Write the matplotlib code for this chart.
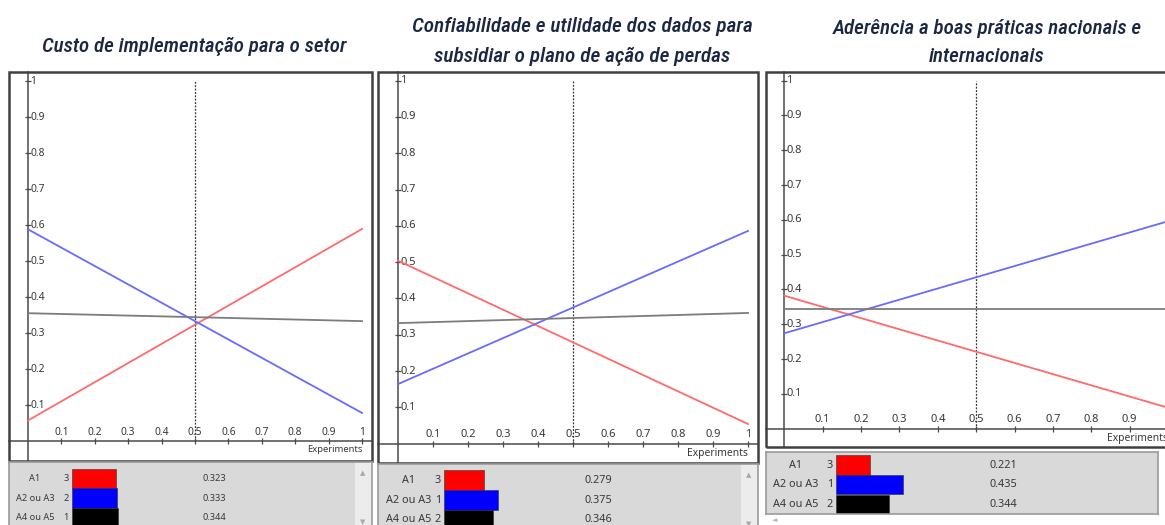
import matplotlib
matplotlib.use("Agg")
import matplotlib.pyplot as plt
from matplotlib import font_manager
from matplotlib.patches import Rectangle

# ---------------------------------------------------------------- data
weights = [0.0, 0.5, 1.0]          # criterion weight at start, current, end
current_index = 1
alternatives = ["A1", "A2 ou A3", "A4 ou A5"]

titles = [
    "Custo de implementação para o setor",
    "Confiabilidade e utilidade dos dados para\nsubsidiar o plano de ação de perdas",
    "Aderência a boas práticas nacionais e\ninternacionais",
]

custo_a1 = [0.057, 0.323, 0.589]
custo_a2_a3 = [0.588, 0.333, 0.078]
custo_a4_a5 = [0.355, 0.344, 0.333]
custo_rank = [3, 2, 1]

dados_a1 = [0.504, 0.279, 0.054]
dados_a2_a3 = [0.164, 0.375, 0.586]
dados_a4_a5 = [0.332, 0.346, 0.360]
dados_rank = [3, 1, 2]

praticas_a1 = [0.382, 0.221, 0.060]
praticas_a2_a3 = [0.274, 0.435, 0.596]
praticas_a4_a5 = [0.344, 0.344, 0.344]
praticas_rank = [3, 1, 2]

tick_values = [0.1, 0.2, 0.3, 0.4, 0.5, 0.6, 0.7, 0.8, 0.9, 1.0]
tick_labels = ["0.1", "0.2", "0.3", "0.4", "0.5", "0.6", "0.7", "0.8", "0.9", "1"]
x_label = "Experiments"

# ---------------------------------------------------------------- style
line_colors = ["#ff6a6a", "#6a6aff", "#7c7c7c"]
bar_colors = ["#ff0000", "#0000ff", "#000000"]
title_color = "#1b2742"
text_color = "#383838"
frame_color = "#404040"
table_face = "#d9d9d9"
ui_font = ["Noto Sans", "DejaVu Sans"]

installed = {f.name for f in font_manager.fontManager.ttflist}
title_family = "DejaVu Sans"
for cand in ["Liberation Sans Narrow", "DejaVu Sans Condensed",
             "Roboto Condensed", "Lato", "Open Sans"]:
    if cand in installed:
        title_family = cand
        break

W, H = 1165, 525
fig = plt.figure(figsize=(W / 100, H / 100), dpi=100)
fig.patch.set_facecolor("white")
renderer = fig.canvas.get_renderer()


def frac_rect(left, top, right, bottom):
    return [left / W, 1 - bottom / H, (right - left) / W, (bottom - top) / H]


# pixel layout of each panel
layouts = [
    dict(box=(9, 72, 372, 461), axis=(28, 362, 441, 81),
         table=(9, 462, 372, 532), row0=478.3, row_step=19.7,
         bar_x0=72, bar_scale=135, label_x=35, rank_x=66, value_x=214,
         font=6.6, tick_font=7.4, scroll=True,
         title_x=194, title_y=[46], title_w=305),
    dict(box=(378, 72, 758, 463), axis=(398, 748, 443.6, 80.7),
         table=(378, 464, 758, 532), row0=480, row_step=20,
         bar_x0=444.3, bar_scale=142, label_x=409, rank_x=438, value_x=598,
         font=7.8, tick_font=8.0, scroll=True,
         title_x=582, title_y=[27, 56], title_w=341),
    dict(box=(766, 72, 1185, 447), axis=(784.3, 1168, 428.6, 80.7),
         table=(766, 452, 1158, 514), row0=465, row_step=19.6,
         bar_x0=836, bar_scale=154, label_x=796, rank_x=830, value_x=1003,
         font=7.8, tick_font=8.0, scroll=False,
         title_x=987, title_y=[28, 57], title_w=309),
]

panels = [
    ([custo_a1, custo_a2_a3, custo_a4_a5], custo_rank),
    ([dados_a1, dados_a2_a3, dados_a4_a5], dados_rank),
    ([praticas_a1, praticas_a2_a3, praticas_a4_a5], praticas_rank),
]

for title, (series, ranks), lay in zip(titles, panels, layouts):
    L, T, R, B = lay["box"]
    x0, x1, y0, y1 = lay["axis"]
    sx = x1 - x0
    sy = y0 - y1
    tf = lay["tick_font"]

    # ---------------- sensitivity plot
    ax = fig.add_axes(frac_rect(L, T, R, B))
    ax.set_xlim((L - x0) / sx, (R - x0) / sx)
    ax.set_ylim((y0 - B) / sy, (y0 - T) / sy)
    ax.set_facecolor("white")
    for side in ("top", "right"):
        ax.spines[side].set_visible(False)
    for side in ("left", "bottom"):
        ax.spines[side].set_position(("data", 0))
        ax.spines[side].set_color("#4a4a4a")
        ax.spines[side].set_linewidth(1.1)
    ax.set_xticks(tick_values)
    ax.set_yticks(tick_values)
    ax.tick_params(direction="inout", length=4, width=0.9, color="#4a4a4a",
                   labelbottom=False, labelleft=False)

    for v, lab in zip(tick_values, tick_labels):
        ax.annotate(lab, (v, 0), xytext=(0, 2.5), textcoords="offset points",
                    ha="center", va="bottom", fontsize=tf,
                    color=text_color, family=ui_font)
        ax.annotate(lab, (0, v), xytext=(1.5, 0), textcoords="offset points",
                    ha="left", va="center", fontsize=tf,
                    color=text_color, family=ui_font)
    ax.annotate(x_label, (1, 0), xytext=(0, -3), textcoords="offset points",
                ha="right", va="top", fontsize=tf - 0.6,
                color=text_color, family=ui_font, annotation_clip=False)

    ax.vlines(weights[current_index], 0, 1, colors="#333333",
              linestyles=(0, (1.5, 1.2)), linewidth=0.9, zorder=2)
    for vals, col in zip(series, line_colors):
        ax.plot(weights, vals, color=col, linewidth=1.3, zorder=3)

    ax.add_patch(Rectangle((0, 0), 1, 1, transform=ax.transAxes, fill=False,
                           edgecolor=frame_color, linewidth=1.8,
                           clip_on=False, zorder=5))

    # ---------------- ranking table
    tL, tT, tR, tB = lay["table"]
    bx0, bs = lay["bar_x0"], lay["bar_scale"]
    r0, rs = lay["row0"], lay["row_step"]
    tax = fig.add_axes(frac_rect(tL, tT, tR, tB))
    tax.set_xlim((tL - bx0) / bs, (tR - bx0) / bs)
    tax.set_ylim((tB - r0) / rs, (tT - r0) / rs)
    tax.set_facecolor(table_face)
    tax.set_xticks([])
    tax.set_yticks([])
    for sp in tax.spines.values():
        sp.set_color("#9a9a9a")
        sp.set_linewidth(1.2)

    current = [vals[current_index] for vals in series]
    rows = list(range(len(alternatives)))
    tax.barh(rows, current, height=0.97, left=0, color=bar_colors,
             edgecolor="#303030", linewidth=0.4)
    for r, name, rank, val in zip(rows, alternatives, ranks, current):
        tax.text((lay["label_x"] - bx0) / bs, r, name, ha="center",
                 va="center", fontsize=lay["font"], color=text_color,
                 family=ui_font)
        tax.text((lay["rank_x"] - bx0) / bs, r, str(rank), ha="center",
                 va="center", fontsize=lay["font"], color=text_color,
                 family=ui_font)
        tax.text((lay["value_x"] - bx0) / bs, r, f"{val:.3f}", ha="center",
                 va="center", fontsize=lay["font"], color=text_color,
                 family=ui_font)

    if lay["scroll"]:
        tax.add_patch(Rectangle((1 - 17 / (tR - tL), 0), 17 / (tR - tL), 1,
                                transform=tax.transAxes, facecolor="#ececec",
                                edgecolor="none", zorder=1))
        tax.text(1 - 9 / (tR - tL), 1 - 12 / (tB - tT), "▲",
                 transform=tax.transAxes, ha="center", va="center",
                 fontsize=5, color="#a8a8a8", family=ui_font)
        tax.text(1 - 9 / (tR - tL), 1 - 61 / (tB - tT), "▼",
                 transform=tax.transAxes, ha="center", va="center",
                 fontsize=5, color="#a8a8a8", family=ui_font)
    else:
        fig.text(775 / W, 1 - 521 / H, "◄", ha="center", va="center",
                 fontsize=5, color="#b0b0b0", family=ui_font)

    # ---------------- title, one text per line, sized to the panel width
    lines = title.split("\n")
    txts = [fig.text(lay["title_x"] / W, 1 - ty / H, line, ha="center",
                     va="center", fontsize=16, style="italic",
                     weight="medium", color=title_color,
                     family=[title_family, "DejaVu Sans"])
            for line, ty in zip(lines, lay["title_y"])]
    widest = max(t.get_window_extent(renderer).width for t in txts)
    size = min(19.0, 16 * lay["title_w"] / widest)
    for t in txts:
        t.set_fontsize(size)

fig.savefig("out.png", dpi=100, facecolor="white")
